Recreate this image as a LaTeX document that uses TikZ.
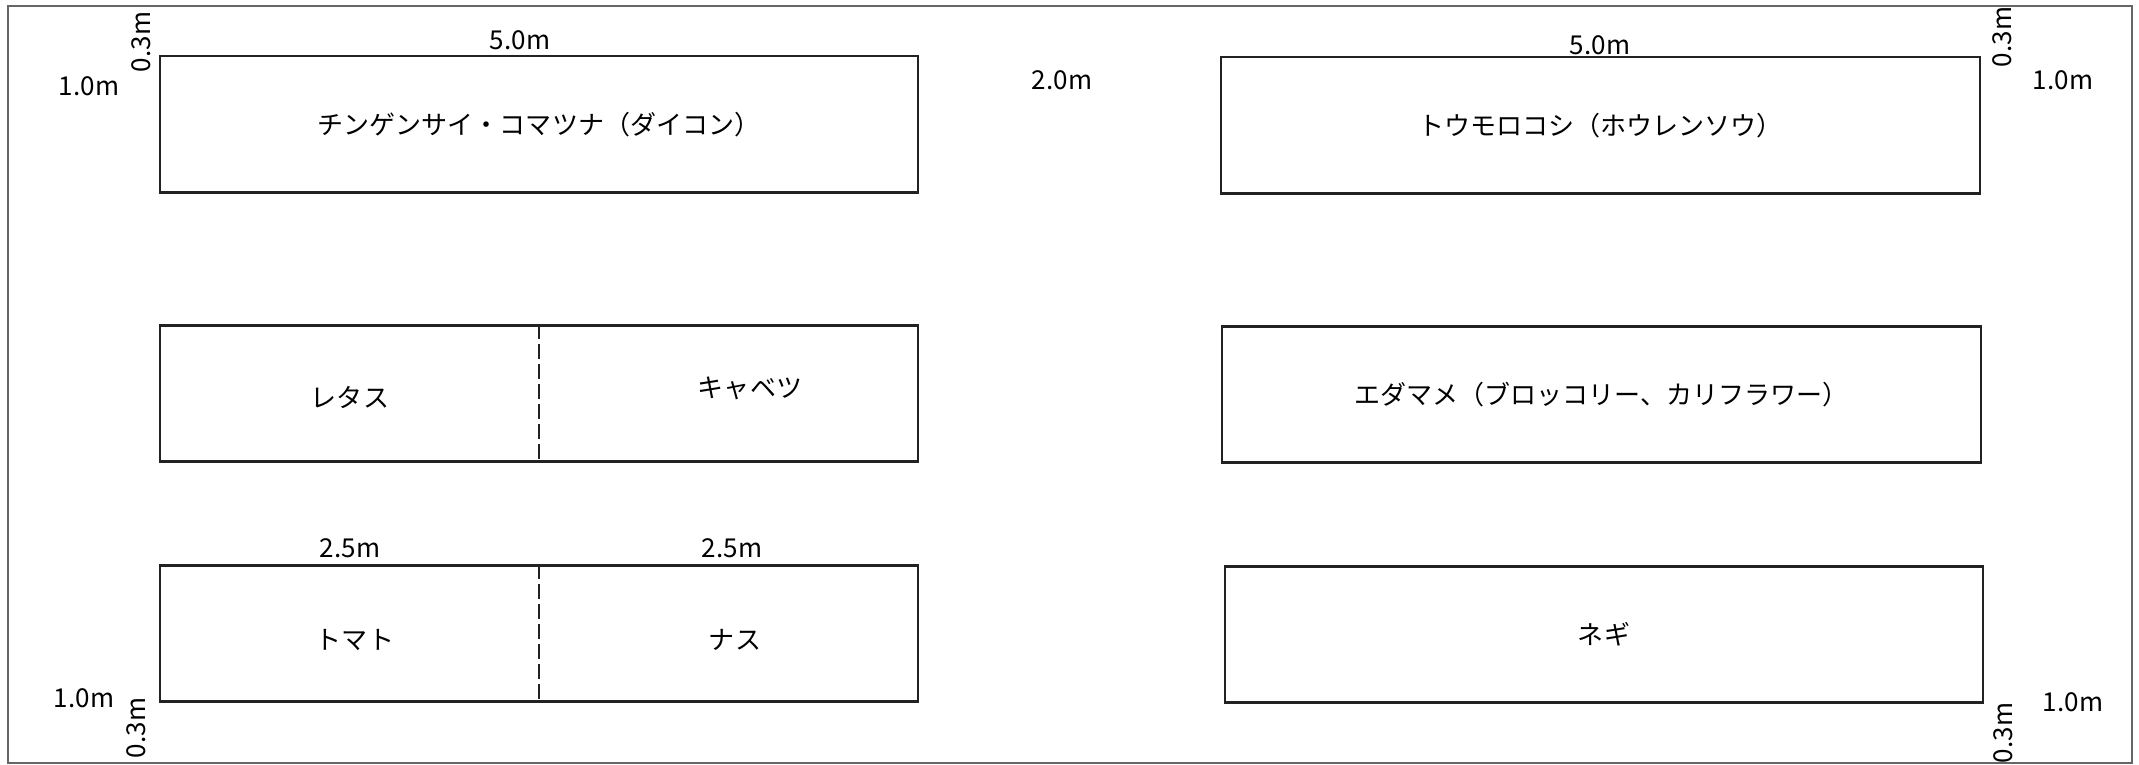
\documentclass[tikz,border=0pt]{standalone}
\usepackage{fontspec}
\setmainfont{Noto Sans CJK JP}
\usepackage{tikz}
\usetikzlibrary{positioning}
\definecolor{bedline}{HTML}{222222}
\definecolor{framegray}{HTML}{666666}
\tikzset{
	bed/.style={draw=bedline, line width=0.6pt, minimum width=7.58cm, minimum height=1.36cm, inner sep=0pt, font=\fontsize{7.4}{9}\selectfont},
	crop/.style={inner sep=0pt, font=\fontsize{7.4}{9}\selectfont},
	dim/.style={inner sep=0pt, font=\fontsize{7.4}{9}\selectfont},
	split/.style={draw=bedline, line width=0.5pt, dash pattern=on 1.5mm off 0.5mm}
}

\begin{document}
\begin{tikzpicture}[x=0.01cm, y=-0.01cm]
	\useasboundingbox (0,0) rectangle (2139,765);
	\draw[framegray, line width=0.4pt] (8,6) rectangle (2132,763);
	% left column
	\node[bed] (bedChin) at (539,124.5) {チンゲンサイ・コマツナ（ダイコン）};
	\node[bed] (bedLet) at (539,393.5) {};
	\node[bed] (bedTom) at (539,633.5) {};
	\node[crop] (let) at (350,397) {レタス};
	\node[crop] (cab) at (750,388) {キャベツ};
	\node[crop] (tom) at (355,640) {トマト};
	\node[crop] (nas) at (735,640) {ナス};
	\draw[split] (bedLet.north) -- (bedLet.south);
	\draw[split] (bedTom.north) -- (bedTom.south);
	% right column
	\node[bed] (bedCorn) at (1600.5,125.5) {トウモロコシ（ホウレンソウ）};
	\node[bed] (bedEda) at (1601.5,394.5) {エダマメ（ブロッコリー、カリフラワー）};
	\node[bed] (bedNeg) at (1604,634.5) {ネギ};
	% sizes
	\node[dim] (wA) at (520,40) {5.0m};
	\node[dim] (wB) at (1600,45) {5.0m};
	\node[dim] (gap) at (1062,80) {2.0m};
	\node[dim] (hLet) at (350,548) {2.5m};
	\node[dim] (hNas) at (732,548) {2.5m};
	\node[dim] (dA) at (89,86) {1.0m};
	\node[dim] (dB) at (84,698) {1.0m};
	\node[dim] (dC) at (2063,80) {1.0m};
	\node[dim] (dD) at (2073,702) {1.0m};
	\node[dim, rotate=90] (eA) at (141,42) {0.3m};
	\node[dim, rotate=90] (eB) at (136,728) {0.3m};
	\node[dim, rotate=90] (eC) at (2002,37) {0.3m};
	\node[dim, rotate=90] (eD) at (2003,733) {0.3m};
\end{tikzpicture}
\end{document}
